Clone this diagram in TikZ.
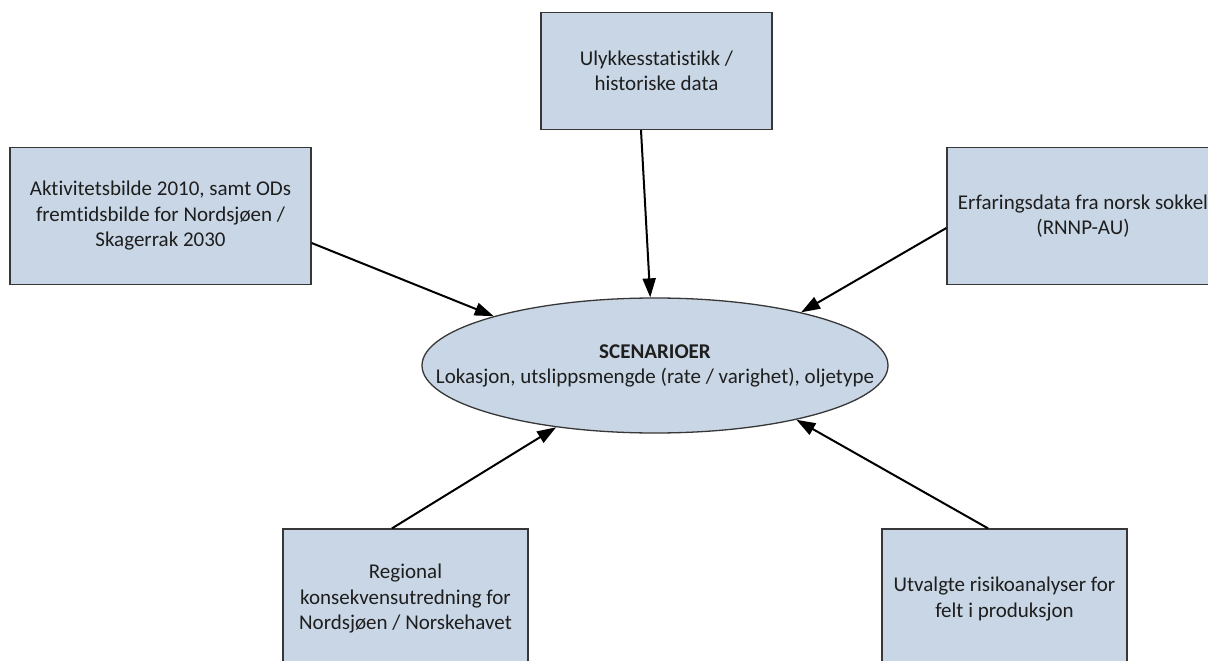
\documentclass[tikz,border=0pt]{standalone}
\usepackage{fontspec}
\setmainfont{Carlito}[Ligatures=NoCommon]
\usetikzlibrary{arrows.meta,shapes.geometric}
\definecolor{boxfill}{RGB}{200,214,229}
\definecolor{boxline}{RGB}{55,55,55}
\definecolor{txt}{RGB}{30,30,30}
\tikzset{
  srcbox/.style={draw=boxline, fill=boxfill, line width=1.3pt, align=center, inner sep=0pt,
    text=txt, font=\fontsize{21}{25.5}\selectfont},
  scenshape/.style={ellipse, draw=boxline, fill=boxfill, line width=1.3pt, inner sep=0pt,
    minimum width=466pt, minimum height=135pt},
  scentext/.style={align=center, text=txt, inner sep=0pt, font=\fontsize{21}{25.5}\selectfont},
  feed/.style={line width=2pt, -{Triangle[length=19pt,width=13pt]}, black}
}
\begin{document}
\begin{tikzpicture}[x=1pt,y=-1pt]
\useasboundingbox (0,0) rectangle (1208,661);
\clip (0,0) rectangle (1208,661);
\fill[white] (0,0) rectangle (1208,661);

\node[srcbox, minimum width=301pt, minimum height=137pt] (act) at (160.5,216)
  {Aktivitetsbilde 2010, samt ODs\\ fremtidsbilde for Nordsjøen /\\ Skagerrak 2030};
\node[srcbox, minimum width=231pt, minimum height=117pt] (ulyk) at (656.5,71)
  {Ulykkesstatistikk /\\ historiske data};
\node[srcbox, minimum width=272pt, minimum height=137pt] (erf) at (1083,216)
  {Erfaringsdata fra norsk sokkel\\ (RNNP-AU)};
\node[srcbox, minimum width=245pt, minimum height=140pt] (reg) at (405.5,599)
  {Regional\\ konsekvensutredning for\\ Nordsjøen / Norskehavet};
\node[srcbox, minimum width=245pt, minimum height=140pt] (utv) at (1004.5,599)
  {Utvalgte risikoanalyser for\\ felt i produksjon};

\node[scenshape] (scen) at (655,365.5) {};
\node[scentext] (scenlabel) at (655,366)
  {\textbf{SCENARIOER}\\ Lokasjon, utslippsmengde (rate / varighet), oljetype};

\draw[feed] ([yshift=-27pt]act.east) -- (scen.163.9);
\draw[feed] ([xshift=-15.5pt]ulyk.south) -- (scen.94.2);
\draw[feed] ([yshift=-12pt]erf.west) -- (scen.20.5);
\draw[feed] ([xshift=-13.5pt]reg.north) -- (scen.212.8);
\draw[feed] ([xshift=-16.5pt]utv.north) -- (scen.339.5);
\end{tikzpicture}
\end{document}
